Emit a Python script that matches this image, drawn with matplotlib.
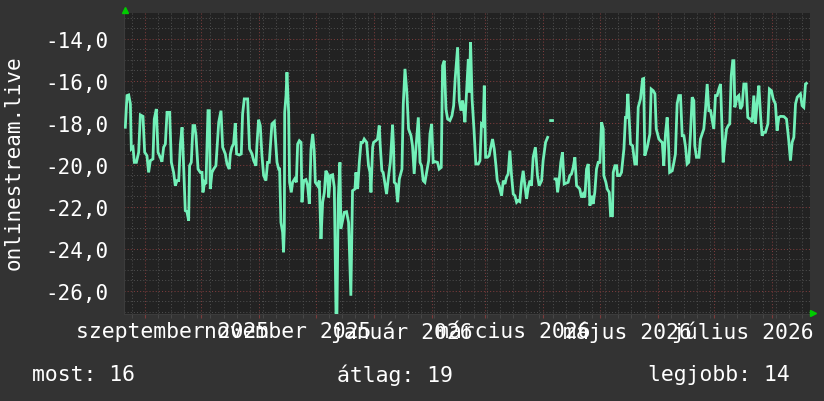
import matplotlib
matplotlib.use('Agg')
import matplotlib.pyplot as plt
import matplotlib.dates as mdates
from matplotlib.ticker import MultipleLocator, FuncFormatter
import numpy as np
import pandas as pd

# --- data: day offset from START and the plotted value (None = no data) ---
START = '2025-08-21'
END = '2026-08-21'

days = [
    0.7, 1.6, 2.5, 3.4, 3.9, 4.8, 5.5, 6.6, 7.8, 8.7, 10.1, 11.0, 12.2, 13.1, 14.0, 15.4,
    16.1, 17.2, 18.1, 19.3, 20.2, 21.1, 22.0, 22.9, 24.3, 25.2, 26.4, 27.3, 28.2, 29.1,
    30.0, 30.9, 31.4, 32.6, 33.5, 34.4, 34.9, 35.8, 36.7, 37.6, 38.3, 39.4, 40.6, 41.5,
    42.0, 42.9, 43.6, 44.7, 45.4, 45.9, 46.8, 47.7, 48.9, 50.4, 51.6, 52.5, 53.9, 54.8,
    56.0, 56.6, 57.4, 58.3, 59.2, 59.9, 61.3, 62.4, 63.1, 64.0, 65.8, 66.3, 66.8, 68.1,
    69.0, 70.2, 70.7, 71.6, 72.5, 73.4, 74.3, 75.5, 76.4, 77.3, 77.8, 78.7, 80.0, 80.9,
    81.4, 82.3, 82.8, 83.5, 84.4, 84.9, 85.3, 85.5, 86.2, 86.7, 87.6, 88.1, 89.0, 89.7,
    90.8, 91.7,
    92.4, 93.3, 94.2, 94.7, 95.6, 96.8, 97.7, 98.6, 99.5, 100.4, 101.2, 101.8, 103.0,
    103.9, 104.8, 105.7, 106.6, 107.4, 108.3, 108.9, 109.8, 111.0, 111.9, 112.8, 113.3,
    114.0, 114.9, 115.4, 116.3, 117.2, 118.4, 119.5, 120.7, 121.6, 122.9, 123.4, 124.3,
    125.2, 126.1, 127.0, 127.8, 129.1, 130.1, 130.9, 131.4, 132.3, 132.8, 134.0, 134.9,
    135.8, 136.3, 137.2, 137.9, 139.0, 139.7, 140.8, 141.7, 142.9, 143.4, 143.8, 144.7,
    145.6, 146.5, 147.9, 148.6, 149.5, 150.5, 151.4, 152.7, 153.5, 154.4, 155.3, 156.6,
    157.5, 158.3, 159.2, 160.1, 161.0, 162.1, 162.8, 163.7, 164.5, 165.6, 166.8, 167.7,
    168.8, 169.5, 170.4, 171.3, 172.2, 173.4, 174.5, 175.4, 176.2, 177.5, 178.4, 179.3,
    180.1, 180.7, 181.4, 182.3, 183.2, 183.7, 184.4, 185.2,
    186.2, 187.2, 188.5, 189.4, 190.2, 191.1, 191.7, 192.4, 193.4, 194.3, 195.0, 196.1,
    197.0, 197.9, 198.6, 199.6, 200.9, 201.8, 202.7, 203.5, 204.4, 205.3, 206.2, 207.1,
    208.0, 208.9, 209.7, 210.6, 211.5, 212.4, 213.3, 214.2, 215.1, 216.0, 216.8, 217.7,
    218.9, 220.0, 220.9, 222.2, 223.0, 224.3, 225.4,
    226.3, 227.0, 228.0, 228.6,
    229.3, 230.1, 230.7, 231.6, 232.4, 233.3, 234.2, 235.5, 236.3, 237.2, 238.1, 239.0,
    239.9, 240.8, 241.7, 242.5, 243.4, 244.3, 245.2, 246.1, 247.0, 247.9, 248.8, 249.6,
    250.5, 251.4, 252.3, 253.2, 254.1, 255.0, 255.3, 256.4, 257.1, 258.2, 258.9, 259.9,
    260.3, 261.2, 262.1, 262.6, 263.8, 264.7, 266.0, 266.8, 267.4, 268.1, 268.8, 269.5,
    270.6, 271.8, 272.7, 273.6, 274.8, 275.9, 276.5,
    277.1, 278.4, 279.8, 280.5, 281.6, 282.5, 283.2, 284.6, 285.8, 286.4, 287.2, 288.1,
    289.0, 289.5, 290.3, 291.7, 292.6, 293.4, 294.3, 295.2, 296.1, 297.0, 297.9, 298.8,
    299.6, 300.5, 301.4, 302.3, 303.2, 303.7, 304.6, 305.9, 306.7, 307.6, 308.5, 309.4,
    310.3, 311.2, 312.1, 312.9, 313.8, 314.7, 315.6, 316.5, 317.4, 318.3, 318.8, 319.7,
    320.6, 321.5, 322.3, 323.1, 323.9, 324.5, 325.0, 326.2, 327.1, 328.0, 328.9, 329.8,
    331.0, 331.9, 333.0, 333.7, 334.2, 335.1, 336.0, 336.9, 337.8, 338.7, 339.5, 340.4,
    341.3, 342.6, 343.4, 344.5, 345.4, 346.6, 347.5, 348.4, 349.3, 351.1, 352.5, 353.7,
    354.6, 355.5, 356.4, 357.3, 358.2, 359.0, 359.9, 360.8, 361.7, 362.6, 363.1,
]

values = [
    -18.22, -16.71, -16.68, -17.11, -19.25, -19.17, -19.89, -19.89, -19.41, -17.63, -17.70,
    -19.41, -19.57, -20.37, -19.81, -19.73, -17.83, -17.35, -19.41, -19.65, -19.86, -19.17,
    -19.02, -17.51, -17.51, -19.89, -20.37, -21.00, -20.76, -20.76, -19.02, -18.22, -19.25,
    -22.19, -22.24, -22.67, -20.05, -19.89, -18.14, -18.14, -18.62, -20.21, -20.37, -20.37,
    -21.32, -20.84, -20.92, -17.43, -17.43, -21.16, -20.37, -20.21, -20.05, -17.98, -17.43,
    -19.17, -19.49, -19.97, -20.21, -19.49, -19.17, -19.02, -18.02, -19.49, -19.54, -19.49,
    -17.59, -16.87, -16.87, -18.14, -19.25, -19.49, -19.81, -20.05, -19.10, -17.86, -18.14,
    -19.57, -20.52, -20.76, -19.89, -19.89, -19.25, -18.06, -17.95, -19.25, -19.89, -20.21,
    -20.21, -22.75, -23.22, -24.17, -23.06, -17.51, -16.71, -15.60, -17.51, -20.84, -21.32,
    -20.84, -20.68, -20.84,
    -19.02, -18.86, -18.94, -21.79, -20.76, -20.71, -21.00, -21.87, -19.25, -18.54, -19.33,
    -20.84, -21.00, -20.76, -23.54, -21.79, -21.32, -20.29, -20.44, -21.56, -20.52, -20.48,
    -21.08, -27.11, -27.11, -21.63, -19.89, -23.06, -22.67, -22.27, -22.24, -22.75, -26.24,
    -21.24, -21.16, -20.37, -21.16, -19.89, -18.94, -18.94, -18.78, -18.94, -20.05, -20.37,
    -21.32, -19.17, -18.94, -18.86, -18.78, -18.14, -19.02, -20.29, -20.37, -21.00, -21.40,
    -20.52, -19.89, -18.10, -19.10, -20.84, -20.92, -21.79, -20.68, -20.21, -17.11, -15.44,
    -16.56, -18.30, -18.62, -19.10, -20.44, -19.25, -17.75, -19.89, -20.05, -20.76, -20.84,
    -20.37, -19.81, -18.54, -18.06, -19.89, -19.86, -19.89, -20.21, -20.13, -15.29, -15.05,
    -17.35, -17.83, -17.90, -17.67, -17.19, -15.92, -14.41, -16.95, -17.43, -16.95, -17.35,
    -17.98, -16.48, -14.97, -16.56, -14.17, -16.87,
    -18.30, -19.97, -19.97, -19.81, -18.06, -18.14, -16.24, -19.65, -19.65, -19.57, -19.25,
    -18.78, -19.25, -20.05, -20.76, -21.00, -21.48, -20.76, -20.92, -20.60, -20.44, -19.33,
    -20.52, -21.40, -21.48, -21.79, -21.71, -21.76, -20.84, -20.29, -21.00, -21.63, -21.08,
    -20.76, -21.00, -19.65, -19.17, -20.52, -21.00, -20.76, -19.81, -18.94, -18.70,
    None, -17.90, -17.90, None,
    -20.68, -20.68, -21.32, -20.68, -19.89, -19.41, -20.92, -20.87, -20.84, -20.52, -20.44,
    -20.13, -19.65, -21.00, -21.08, -21.16, -21.56, -21.40, -21.56, -20.21, -19.97, -21.95,
    -21.48, -21.87, -21.32, -20.21, -19.89, -19.89, -17.98, -18.30, -20.52, -20.84, -21.16,
    -21.32, -22.43, -22.43, -20.37, -20.05, -20.05, -20.52, -20.52, -20.37, -19.25, -17.75,
    -17.75, -16.63, -17.83, -19.02, -19.10, -19.97, -19.97, -17.27, -16.87, -15.92, -15.90,
    -19.57, -19.17, -18.54, -16.40, -16.48, -16.63, -18.30, -18.78, -18.90, -18.94, -20.05,
    -18.54, -17.75, -18.54, -20.37, -20.29, -19.89, -19.49, -17.11, -16.71, -16.71, -18.62,
    -18.62, -19.17, -19.97, -19.89, -18.54, -16.79, -16.95, -19.10, -19.65, -19.65, -18.78,
    -18.54, -18.30, -17.35, -16.16, -17.43, -17.43, -17.83, -18.30, -16.71, -16.71, -16.40,
    -16.16, -18.62, -19.89, -19.02, -18.30, -18.14, -18.06, -15.76, -15.05, -15.05, -17.27,
    -16.79, -16.71, -17.35, -17.19, -16.16, -16.16, -17.75, -17.83, -17.83, -17.98, -16.71,
    -18.06, -17.03, -16.24, -17.67, -18.62, -18.46, -18.46, -18.06, -16.40, -16.48, -16.87,
    -17.11, -18.38, -17.75, -17.70, -17.71, -17.83, -18.86, -19.81, -18.94, -18.70, -17.11,
    -16.79, -16.71, -16.63, -17.19, -17.27, -16.16, -16.13,
]

label_months = ['2025-09-01', '2025-11-01', '2026-01-01', '2026-03-01', '2026-05-01', '2026-07-01']
label_texts = ['szeptember 2025', 'november 2025', 'január 2026',
               'március 2026', 'május 2026', 'július 2026']
y_ticks = [-26, -24, -22, -20, -18, -16, -14]
legend_items = [('most', 16), ('átlag', 19), ('legjobb', 14)]

# --- figure ---
W, H = 824, 402
fig = plt.figure(figsize=(W / 100, H / 100), dpi=100, facecolor='#333333')
ax = fig.add_axes([124 / W, 87 / H, 686 / W, 301 / H])
ax.set_facecolor('#222222')

mono = 'DejaVu Sans Mono'
t0 = pd.Timestamp(START)
dates = t0 + pd.to_timedelta(days, unit='D')
vals = np.array([np.nan if v is None else v for v in values], dtype=float)

ax.plot(dates, vals, color='#72f0b8', lw=2.0, solid_joinstyle='miter', zorder=5)

ax.set_xlim(t0, pd.Timestamp(END))
ax.set_ylim(-27.11, -12.78)

# grid
ax.xaxis.set_major_locator(mdates.MonthLocator())
ax.xaxis.set_minor_locator(mdates.WeekdayLocator(byweekday=mdates.MO))
ax.yaxis.set_major_locator(MultipleLocator(2))
ax.yaxis.set_minor_locator(MultipleLocator(0.5))
ax.grid(which='minor', color='#4c4c4c', linestyle=(0, (1, 2)), lw=0.75)
ax.grid(which='major', color='#7c3c3c', linestyle=(0, (1, 2)), lw=0.75)
ax.set_axisbelow(True)

ax.tick_params(axis='x', which='major', length=3, color='#7c3c3c', labelbottom=False)
ax.tick_params(axis='x', which='minor', length=3, color='#4c4c4c', labelbottom=False)
ax.tick_params(axis='y', which='both', length=0)
ax.set_yticks(y_ticks)
ax.yaxis.set_major_formatter(FuncFormatter(lambda v, p: f'{v:.1f}'.replace('.', ',')))
for lab in ax.get_yticklabels():
    lab.set_fontfamily(mono)
    lab.set_fontsize(15)
    lab.set_color('white')
ax.tick_params(axis='y', pad=11.5)

for s in ax.spines.values():
    s.set_visible(False)
ax.spines['bottom'].set_visible(True)
ax.spines['bottom'].set_color('#3c3c3c')
ax.spines['left'].set_visible(True)
ax.spines['left'].set_color('#3c3c3c')

# month labels (centred half a month after the month start)
for m, txt in zip(label_months, label_texts):
    pos = pd.Timestamp(m) + pd.Timedelta(days=15)
    ax.annotate(txt, xy=(pos, 0), xycoords=('data', 'axes fraction'),
                xytext=(0, -17), textcoords='offset pixels',
                ha='center', va='center', fontsize=15.4, family=mono, color='white',
                annotation_clip=False)

# axis arrows
ax.plot([0.0015], [1.010], marker='^', color='#00cc00', markersize=4.5,
        transform=ax.transAxes, clip_on=False, zorder=6)
ax.plot([1.0051], [0.002], marker='>', color='#00cc00', markersize=4.5,
        transform=ax.transAxes, clip_on=False, zorder=6)

fig.text(14 / W, 1 - 163 / H, 'onlinestream.live', rotation=90, ha='center', va='center',
         fontsize=15, family=mono, color='white')

legend_x = [32, 337, 648]
for (name, v), lx in zip(legend_items, legend_x):
    fig.text(lx / W, 1 - 375 / H, f'{name}: {v}', ha='left', va='center',
             fontsize=15.4, family=mono, color='white')

fig.savefig('out.png', dpi=100, facecolor=fig.get_facecolor())
